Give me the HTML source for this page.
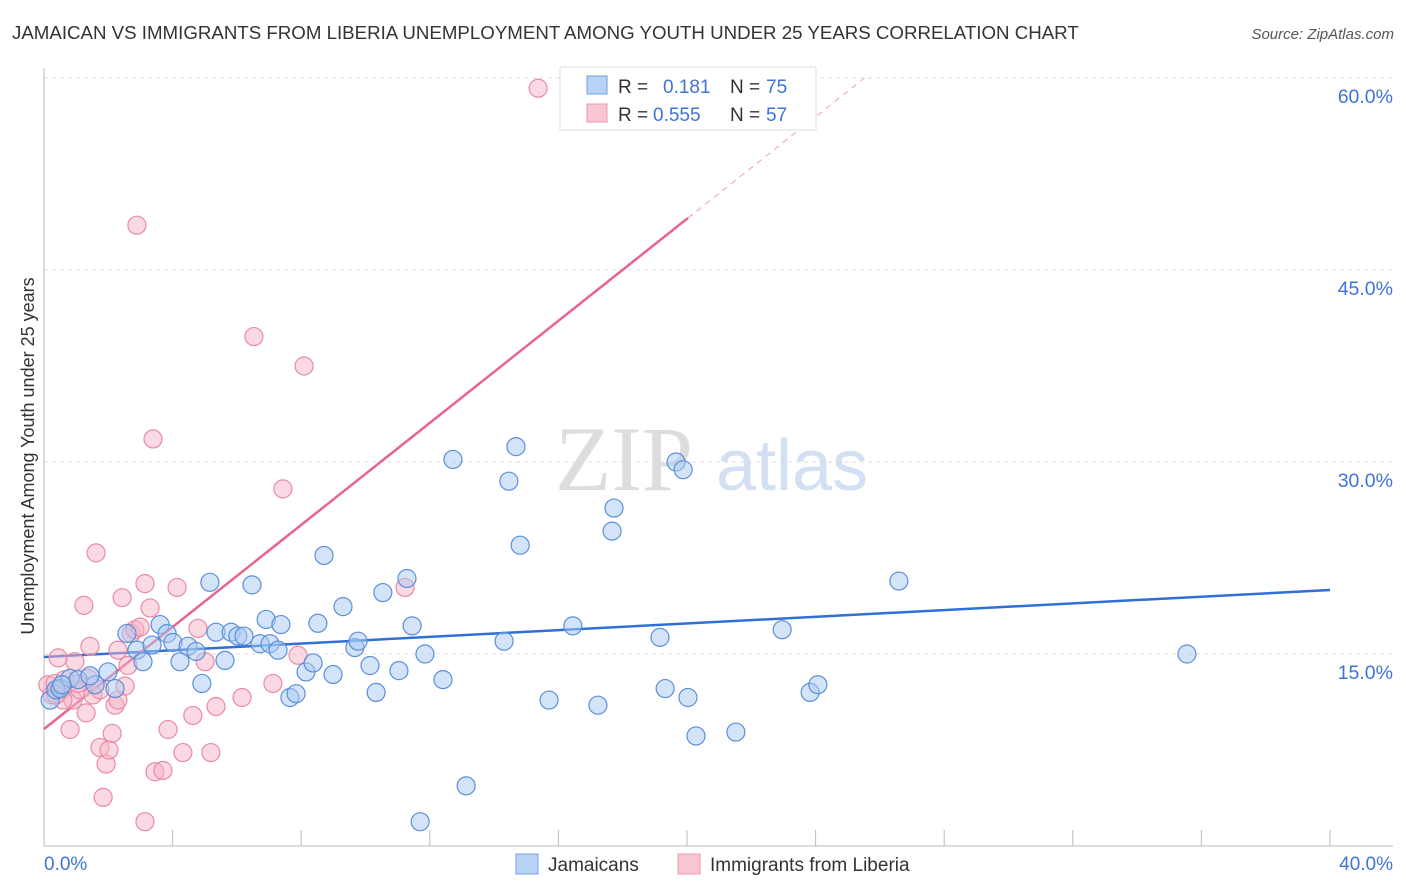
<!DOCTYPE html>
<html><head><meta charset="utf-8"><style>
body{margin:0;background:#fff;font-family:"Liberation Sans",sans-serif;}
svg{display:block}
</style></head><body>
<svg id="chart" width="1406" height="892" xmlns="http://www.w3.org/2000/svg">
<text x="12" y="39" font-size="18.7" fill="#333">JAMAICAN VS IMMIGRANTS FROM LIBERIA UNEMPLOYMENT AMONG YOUTH UNDER 25 YEARS CORRELATION CHART</text>
<text x="1394" y="39" font-size="15" fill="#555" font-style="italic" text-anchor="end">Source: ZipAtlas.com</text>
<text x="34" y="456" font-size="18" fill="#333" text-anchor="middle" transform="rotate(-90 34 456)">Unemployment Among Youth under 25 years</text>
<g><text x="555" y="490" font-size="92" fill="#ddd" font-family="Liberation Serif,serif">ZIP</text><text x="716" y="490" font-size="72" fill="#d3e0f3">atlas</text></g>
<g id="grid"></g><g id="axes"></g><g id="lines"></g><g id="pts"></g>
<g>
<rect x="560" y="67" width="256" height="63" fill="#fff" stroke="#ddd"/>
<rect x="587" y="76" width="20" height="18" fill="#b9d3f5" stroke="#6f9fe0"/>
<rect x="587" y="104" width="20" height="18" fill="#f9c6d4" stroke="#ee9ab2"/>
<text x="618" y="93" font-size="19" fill="#333">R = </text><text x="663" y="93" font-size="19" fill="#3f73d6">0.181</text>
<text x="730" y="93" font-size="19" fill="#333">N = </text><text x="766" y="93" font-size="19" fill="#3f73d6">75</text>
<text x="618" y="121" font-size="19" fill="#333">R = </text><text x="653" y="121" font-size="19" fill="#3f73d6">0.555</text>
<text x="730" y="121" font-size="19" fill="#333">N = </text><text x="766" y="121" font-size="19" fill="#3f73d6">57</text>
</g>
<g>
<rect x="516" y="854" width="22" height="20" fill="#b9d3f5" stroke="#6f9fe0"/>
<text x="548" y="871" font-size="19" fill="#333">Jamaicans</text>
<rect x="678" y="854" width="22" height="20" fill="#f9c6d4" stroke="#ee9ab2"/>
<text x="710" y="871" font-size="19" fill="#333">Immigrants from Liberia</text>
</g>
</svg>
<script>
const yTicks=[15,30,45,60];
const yTickLabels=["15.0%","30.0%","45.0%","60.0%"];
const xTickLabels=["0.0%","40.0%"];
const blueX=[0.19,0.37,0.5,0.81,1.06,1.59,1.99,2.21,2.58,2.89,3.08,3.36,3.61,3.83,4.01,4.23,4.48,4.73,4.91,5.16,5.35,5.63,5.82,6.03,6.22,6.47,6.72,6.91,7.03,7.37,7.28,7.65,7.84,8.15,8.37,8.52,8.71,8.99,9.3,9.67,9.77,10.14,10.33,10.54,11.04,11.29,11.45,11.85,12.41,12.72,14.31,14.46,14.68,14.81,15.71,16.45,17.23,17.73,17.67,19.16,19.32,19.66,19.88,20.03,20.28,21.52,22.96,23.83,24.07,26.59,35.55,13.13,11.7,0.56,1.43];
const blueY=[11.4,12.2,12.3,13.1,13.0,12.6,13.6,12.3,16.6,15.3,14.4,15.7,17.3,16.6,15.9,14.4,15.6,15.2,12.7,20.6,16.7,14.5,16.7,16.4,16.4,20.4,15.8,17.7,15.8,17.3,15.3,11.6,11.9,13.6,14.3,17.4,22.7,13.4,18.7,15.5,16.0,14.1,12.0,19.8,13.7,20.9,17.2,15.0,13.0,30.2,16.0,28.5,31.2,23.5,11.4,17.2,11.0,26.4,24.6,16.3,12.3,30.0,29.4,11.6,8.6,8.9,16.9,12.0,12.6,20.7,15.0,4.7,1.9,12.6,13.3];
const pinkX=[0.12,0.25,0.34,0.44,0.56,0.65,0.81,0.9,0.96,1.12,1.24,1.31,1.37,1.43,1.52,1.62,1.74,1.84,1.93,2.02,2.12,2.21,2.3,2.43,2.52,2.61,2.71,2.83,2.89,2.99,3.14,3.14,3.3,3.39,3.45,3.7,3.86,4.14,4.32,4.63,4.79,5.01,5.19,5.35,6.16,6.53,7.12,7.43,7.9,8.09,11.23,15.37,0.59,1.74,2.3,0.37,1.06];
const pinkY=[12.6,11.8,12.7,14.7,12.2,13.0,9.1,11.4,14.4,12.2,18.8,10.4,13.1,15.6,11.8,22.9,7.7,3.8,6.4,7.5,8.8,11.0,11.4,19.4,12.5,14.1,16.6,16.9,48.5,17.1,1.9,20.5,18.6,31.8,5.8,5.9,9.1,20.2,7.3,10.2,17.0,14.4,7.3,10.9,11.6,39.8,12.7,27.9,14.9,37.5,20.2,59.2,11.4,12.2,15.3,11.8,12.7];
const blueLine=[14.77,20.0];
const pinkLine=[9.14,1.993];
const X=v=>44+v/40*1286, Y=v=>846-v*12.8;
const NS="http://www.w3.org/2000/svg";
function mk(parent,tag,attrs){const e=document.createElementNS(NS,tag);for(const k in attrs)e.setAttribute(k,attrs[k]);document.getElementById(parent).appendChild(e);return e;}
yTicks.forEach((t,i)=>{
 const g=mk('grid','line',{x1:44,x2:1393,y1:Y(t),y2:Y(t),stroke:'#ddd','stroke-dasharray':'4 4'});
 
 
 const l=mk('grid','text',{x:1393,y:Y(t)+25,'font-size':19.5,fill:'#3f73d6','text-anchor':'end'});
 l.textContent=yTickLabels[i];
 
 
});
let a=mk('axes','line',{x1:44,x2:44,y1:68,y2:846,stroke:'#bbb'});


a=mk('axes','line',{x1:44,x2:1393,y1:846,y2:846,stroke:'#bbb'});


for(let i=1;i<=10;i++){const t=mk('axes','line',{x1:X(i*4),x2:X(i*4),y1:830,y2:846,stroke:'#bbb'});
 
 }
let xl=mk('axes','text',{x:44,y:870,'font-size':19,fill:'#3f73d6'});xl.textContent=xTickLabels[0];


xl=mk('axes','text',{x:1393,y:870,'font-size':19,fill:'#3f73d6','text-anchor':'end'});xl.textContent=xTickLabels[1];


function addPts(xs,ys,fill,stroke,name){xs.forEach((x,i)=>{const c=mk('pts','circle',{cx:X(x),cy:Y(ys[i]),r:9,fill:fill,'fill-opacity':0.5,stroke:stroke,'stroke-width':1.2});
 
 });}
addPts(pinkX,pinkY,'#f6b3c6','#e98aa7','liberia-point');
addPts(blueX,blueY,'#a9c9f1','#5b8fd9','jamaican-point');
let ln=mk('lines','line',{x1:X(0),y1:Y(blueLine[0]),x2:X(40),y2:Y(blueLine[1]),stroke:'#2f6fd6','stroke-width':2.5});


const xe=20.03, xm=(60-pinkLine[0])/pinkLine[1];
ln=mk('lines','line',{x1:X(0),y1:Y(pinkLine[0]),x2:X(xe),y2:Y(pinkLine[0]+pinkLine[1]*xe),stroke:'#e8648c','stroke-width':2.5});


ln=mk('lines','line',{x1:X(xe),y1:Y(pinkLine[0]+pinkLine[1]*xe),x2:X(xm),y2:Y(60),stroke:'#eaa0b6','stroke-width':1,'stroke-dasharray':'6 5'});


</script>
</body></html>
